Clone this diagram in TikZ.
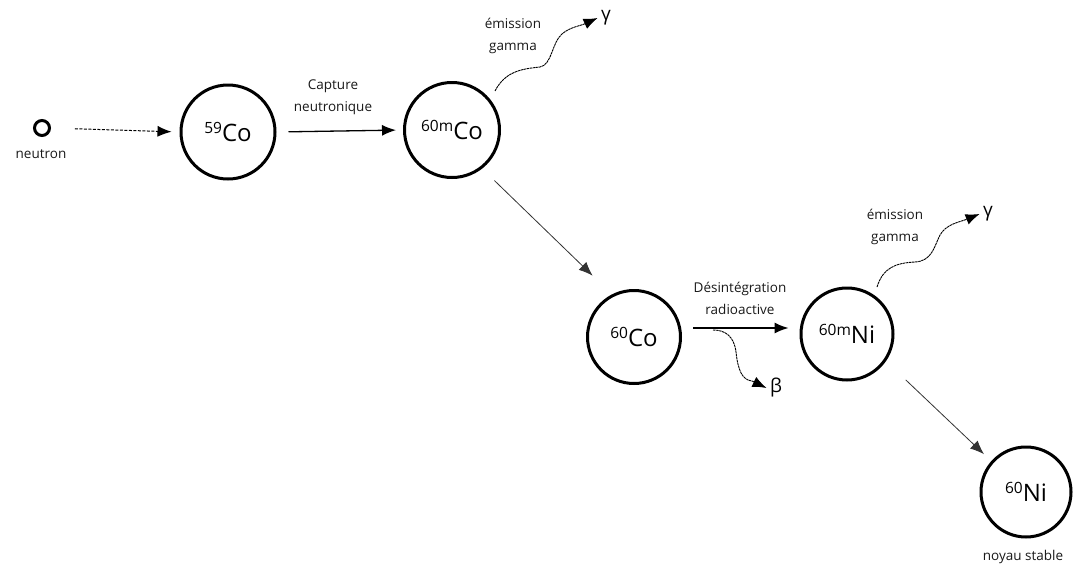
\documentclass[tikz,border=0pt]{standalone}
\usepackage{fontspec}
\setmainfont{Open Sans}
\usetikzlibrary{arrows.meta,calc}
\newcommand\isotope[2]{\raisebox{8pt}{\fontsize{15.5}{15}\selectfont #1}#2}
\begin{document}
\begin{tikzpicture}[x=1pt,y=-1pt,
  nucleus/.style={circle,draw,line width=3pt,inner sep=0pt,font=\fontsize{24}{24}\selectfont},
  lbl/.style={font=\fontsize{13.5}{22}\selectfont,align=center,text=black!90},
  sym/.style={font=\fontsize{19}{19}\selectfont},
  tip/.style={-{Latex[length=14pt,width=11pt]}},
  mainarrow/.style={tip,line width=1.3pt},
  thinarrow/.style={tip,line width=0.8pt,draw=black!80},
  wave/.style={tip,line width=0.9pt,dash pattern=on 2.5pt off 0.6pt}]
\useasboundingbox (0,0) rectangle (1082,568);
% nodes
\node[circle,draw,line width=3pt,minimum size=15pt,inner sep=0pt] (n) at (42,128) {};
\node[lbl] (nlab) at (41,154) {neutron};
\node[nucleus,minimum size=94pt] (co59) at (228,132) {\isotope{59}{Co}};
\node[nucleus,minimum size=95pt] (co60m) at (452,130) {\isotope{60m}{Co}};
\node[nucleus,minimum size=93pt] (co60) at (634,337) {\isotope{60}{Co}};
\node[nucleus,minimum size=92pt] (ni60m) at (847,334) {\isotope{60m}{Ni}};
\node[nucleus,minimum size=90pt] (ni60) at (1026,492) {\isotope{60}{Ni}};
\node[lbl] (stable) at (1023,557) {noyau stable};
% labels
\node[lbl] (capt) at (333,97) {Capture\\neutronique};
\node[lbl] (em1) at (513,36) {émission\\gamma};
\node[lbl] (desint) at (740,298) {Désintégration\\radioactive};
\node[lbl] (em2) at (895,227) {émission\\gamma};
\node[sym] (g1) at (606,18) {γ};
\node[sym] (g2) at (988,214) {γ};
\node[sym] (b1) at (776,388) {β};
% connectors
\draw[mainarrow,dash pattern=on 3pt off 1.5pt,line width=1pt,shorten <=24pt,shorten >=8pt] (n.east) -- (co59.west);
\draw[mainarrow,shorten <=12pt,shorten >=7pt] (co59.east) -- (co60m.west);
\draw[thinarrow] ([shift={(-50:17pt)}]co60m.-50) -- ([shift={(124:26pt)}]co60.124);
\draw[mainarrow,shorten <=11pt,shorten >=11pt] ([yshift=9pt]co60.east) -- ([yshift=9pt]co60.east -| ni60m.west);
\draw[thinarrow] ([shift={(-38:27pt)}]ni60m.-38) -- ([shift={(138:10pt)}]ni60.138);
% waves
\coordinate (w1) at (495,91);
\draw[wave] (w1) .. controls (505,72) and (520,69) .. (540,67)
  .. controls (552,65) and (552,42) .. (562,34)
  .. controls (570,27) and (580,26) .. (g1.west);
\coordinate (w2) at (877,287);
\draw[wave] (w2) .. controls (883,268) and (895,263) .. (915,262)
  .. controls (932,261) and (934,247) .. (940,235)
  .. controls (946,224) and (960,222) .. (g2.west);
\coordinate (w3) at (713,330);
\draw[wave] (w3) .. controls (725,330) and (734,336) .. (736,352)
  .. controls (738,370) and (742,380) .. (752,381)
  -- (b1.west);
\end{tikzpicture}
\end{document}
